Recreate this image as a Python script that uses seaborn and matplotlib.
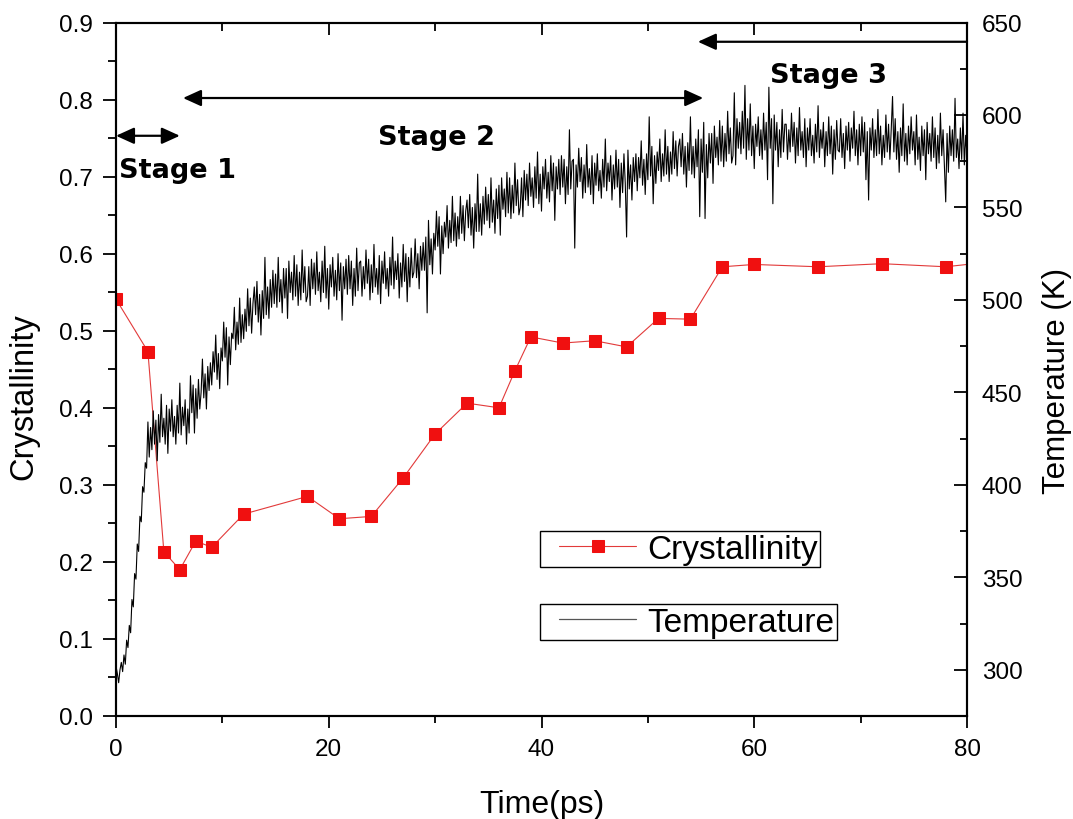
import numpy as np
import pandas as pd
import matplotlib
matplotlib.use("Agg")
import matplotlib.pyplot as plt
from matplotlib.patches import ArrowStyle
from matplotlib.legend_handler import HandlerLine2D
from matplotlib.ticker import MultipleLocator, FormatStrFormatter
import seaborn as sns

sns.set_theme(style="ticks")
plt.rcParams["font.family"] = ["Liberation Sans", "DejaVu Sans"]
for key in ("text.color", "axes.labelcolor", "xtick.color", "ytick.color", "axes.edgecolor"):
    plt.rcParams[key] = "black"

# Crystallinity sampled along the run (left axis)
cryst_time = [0, 3, 4.5, 6, 7.5, 9, 12, 18, 21, 24, 27, 30, 33, 36, 37.5, 39,
              42, 45, 48, 51, 54, 57, 60, 66, 72, 78, 84]
crystallinity = [0.541, 0.473, 0.213, 0.190, 0.227, 0.219, 0.262, 0.285, 0.256,
                 0.259, 0.309, 0.366, 0.406, 0.400, 0.448, 0.492, 0.484, 0.487,
                 0.479, 0.516, 0.515, 0.583, 0.586, 0.583, 0.587, 0.583, 0.592]

# Temperature trace (K), one sample every 0.125 ps (one row per ps), 0 to 80 ps
temperature = [
    302, 298, 293, 300, 304, 299, 308, 303,
    316, 312, 324, 320, 338, 334, 352, 349,
    368, 364, 383, 380, 399, 396, 412, 409,
    434, 415, 431, 419, 440, 422, 435, 413,
    438, 423, 449, 426, 436, 422, 443, 417,
    441, 429, 446, 426, 437, 422, 443, 428,
    455, 427, 442, 432, 446, 422, 441, 428,
    459, 439, 454, 428, 452, 436, 457, 441,
    450, 468, 447, 460, 441, 464, 451, 466,
    454, 472, 461, 481, 457, 471, 452, 474,
    467, 488, 469, 485, 454, 480, 465, 482,
    479, 496, 473, 488, 476, 501, 477, 492,
    479, 495, 483, 506, 486, 501, 482, 498,
    507, 492, 510, 488, 503, 481, 505, 490,
    523, 492, 507, 490, 511, 496, 516, 498,
    514, 496, 523, 499, 511, 493, 517, 501,
    517, 490, 521, 504, 515, 500, 524, 502,
    519, 497, 515, 500, 527, 504, 518, 499,
    502, 518, 497, 522, 506, 520, 503, 526,
    505, 515, 499, 521, 504, 529, 501, 517,
    495, 519, 507, 523, 502, 516, 500, 525,
    505, 520, 489, 518, 506, 522, 503, 524,
    506, 521, 497, 517, 502, 528, 505, 520,
    521, 502, 518, 506, 527, 509, 522, 500,
    519, 504, 530, 507, 517, 503, 524, 498,
    521, 509, 526, 506, 517, 502, 523, 508,
    534, 506, 521, 511, 525, 501, 520, 507,
    530, 510, 525, 499, 523, 507, 528, 512,
    515, 533, 512, 525, 506, 529, 516, 531,
    516, 534, 493, 543, 519, 533, 514, 536,
    527, 548, 529, 545, 514, 540, 525, 542,
    534, 551, 528, 543, 531, 556, 532, 547,
    529, 545, 533, 556, 536, 551, 532, 548,
    554, 539, 557, 535, 550, 528, 552, 537,
    568, 537, 552, 535, 556, 541, 561, 543,
    557, 539, 566, 542, 554, 536, 560, 544,
    562, 535, 566, 549, 560, 545, 569, 547,
    566, 544, 562, 547, 574, 551, 565, 546,
    550, 566, 545, 570, 554, 568, 551, 574,
    556, 566, 550, 572, 555, 580, 552, 568,
    548, 572, 560, 576, 555, 569, 553, 578,
    559, 574, 543, 572, 560, 576, 557, 578,
    561, 576, 552, 572, 557, 592, 560, 575,
    576, 528, 573, 561, 582, 564, 577, 555,
    573, 558, 584, 561, 571, 557, 578, 552,
    574, 562, 579, 559, 570, 555, 576, 561,
    587, 559, 574, 564, 578, 554, 573, 560,
    581, 561, 576, 550, 574, 558, 579, 563,
    534, 581, 560, 573, 554, 577, 564, 579,
    559, 577, 566, 586, 562, 576, 557, 579,
    565, 599, 567, 583, 552, 578, 563, 580,
    570, 587, 564, 579, 567, 592, 568, 583,
    564, 580, 568, 591, 571, 586, 567, 583,
    587, 572, 590, 568, 583, 561, 585, 570,
    599, 568, 583, 566, 587, 572, 592, 545,
    587, 569, 596, 544, 584, 566, 590, 574,
    590, 563, 594, 577, 588, 573, 597, 575,
    594, 572, 590, 575, 602, 579, 593, 574,
    578, 612, 573, 598, 582, 596, 579, 602,
    582, 616, 576, 598, 581, 606, 578, 594,
    571, 595, 583, 599, 578, 592, 576, 601,
    581, 596, 565, 615, 582, 598, 552, 600,
    581, 596, 572, 592, 577, 603, 580, 595,
    595, 576, 592, 580, 601, 583, 596, 574,
    593, 578, 604, 581, 591, 577, 598, 572,
    593, 581, 598, 578, 589, 574, 595, 580,
    605, 577, 592, 582, 596, 572, 591, 578,
    599, 579, 594, 568, 592, 576, 597, 581,
    580, 598, 577, 590, 571, 594, 581, 596,
    575, 593, 582, 602, 578, 592, 573, 595,
    578, 599, 580, 596, 565, 591, 554, 593,
    581, 598, 577, 592, 578, 603, 579, 594,
    573, 589, 577, 600, 580, 595, 576, 592,
    610, 580, 598, 576, 591, 569, 593, 578,
    606, 575, 590, 573, 594, 579, 599, 581,
    591, 573, 600, 576, 588, 570, 594, 578,
    592, 565, 596, 579, 590, 575, 599, 577,
    593, 571, 589, 574, 601, 578, 592, 573,
    553, 590, 569, 594, 578, 592, 575, 609,
    577, 587, 571, 593, 576, 601, 573, 589,
    578,
]
temp_time = np.linspace(0, 80, len(temperature))

# Stage annotations
stage_labels = ["Stage 1", "Stage 2", "Stage 3"]
stage_text_xy = [(0.3, 0.700), (24.6, 0.742), (61.5, 0.823)]
stage_arrows = [((0.0, 6.0), 0.753, "<|-|>"),
                ((6.3, 55.2), 0.802, "<|-|>"),
                ((80.0, 54.7), 0.875, "-|>")]

W, H = 1073, 820
fig = plt.figure(figsize=(W / 100, H / 100), dpi=100)
ax1 = fig.add_axes([116 / W, 1 - 717 / H, 851 / W, 693.5 / H])
ax2 = ax1.twinx()

sns.lineplot(x=temp_time, y=temperature, ax=ax2, color="black", linewidth=0.8,
             label="Temperature", legend=False, errorbar=None)
sns.lineplot(x=cryst_time, y=crystallinity, ax=ax1, color="#e23a3a", linewidth=0.8,
             marker="s", markersize=8.6, markerfacecolor="#f01010",
             markeredgecolor="#f01010", label="Crystallinity", legend=False,
             errorbar=None)

ax1.set_xlim(0, 80)
ax1.set_ylim(0, 0.9)
ax2.set_ylim(275, 650)
ax1.set_xlabel("")
ax1.set_ylabel("")
ax2.set_ylabel("")

ax1.xaxis.set_major_locator(MultipleLocator(20))
ax1.xaxis.set_minor_locator(MultipleLocator(10))
ax1.yaxis.set_major_locator(MultipleLocator(0.1))
ax1.yaxis.set_minor_locator(MultipleLocator(0.05))
ax1.yaxis.set_major_formatter(FormatStrFormatter("%.1f"))
ax2.set_yticks(np.arange(300, 651, 50))
ax2.yaxis.set_minor_locator(MultipleLocator(25))

tick_fs = 17.5
ax1.tick_params(axis="x", which="both", direction="out", bottom=True, top=False,
                labelsize=tick_fs, pad=7.5, width=1.3, colors="black")
ax1.tick_params(axis="x", which="major", length=8.6)
ax1.tick_params(axis="x", which="minor", length=5)
ax1.tick_params(axis="y", which="both", direction="out", left=True, right=False,
                labelsize=tick_fs, pad=7, width=1.3, colors="black")
ax1.tick_params(axis="y", which="major", length=9.4)
ax1.tick_params(axis="y", which="minor", length=5.8)

ax2.xaxis.set_visible(True)
ax2.tick_params(axis="x", which="both", direction="in", bottom=False, top=True,
                labelbottom=False, labeltop=False, width=1.3)
ax2.tick_params(axis="x", which="major", length=8.6)
ax2.tick_params(axis="x", which="minor", length=5.5)
ax2.tick_params(axis="y", which="both", direction="in", left=False, right=True,
                labelsize=tick_fs, pad=10.5, width=1.3, colors="black")
ax2.tick_params(axis="y", which="major", length=9.4)
ax2.tick_params(axis="y", which="minor", length=5)

for ax in (ax1, ax2):
    for sp in ax.spines.values():
        sp.set_visible(True)
        sp.set_linewidth(1.5)
        sp.set_color("black")

# Two separate legend boxes
leg_fs = 24
legends = []
for ax, loc_y in ((ax1, 0.2668), (ax2, 0.1615)):
    line = ax.get_lines()[0]
    leg = ax.legend(handles=[line], labels=[line.get_label()],
                    loc="upper left", bbox_to_anchor=(0.4982, loc_y),
                    borderaxespad=0, borderpad=0.08, fontsize=leg_fs,
                    handlelength=2.8, handletextpad=0.33, fancybox=False,
                    framealpha=1, edgecolor="black", frameon=True,
                    handler_map={line: HandlerLine2D(numpoints=1, xpad=0.5)})
    leg.get_frame().set_linewidth(1.0)
    for t in leg.get_texts():
        t.set_color("black")
    legends.append(leg)
temp_handle = legends[1].legend_handles[0]
temp_handle.set_color("#555555")
temp_handle.set_linewidth(0.9)

# Stage labels and arrows
for label, (tx, ty) in zip(stage_labels, stage_text_xy):
    ax1.text(tx, ty, label, ha="left", va="baseline", fontsize=19.5,
             fontweight="bold", family="DejaVu Sans", color="black")
for (x0, x1), ay, style in stage_arrows:
    ax1.annotate("", xy=(x1, ay), xytext=(x0, ay), xycoords="data",
                 annotation_clip=False,
                 arrowprops=dict(arrowstyle=ArrowStyle(style, head_length=1.1, head_width=0.5),
                                 color="black", lw=1.6, shrinkA=0, shrinkB=0,
                                 mutation_scale=10))

fig.text(24 / W, 1 - 397 / H, "Crystallinity", rotation=90, ha="center",
         va="center", fontsize=23.5, color="black")
fig.text(1057.5 / W, 1 - 381 / H, "Temperature (K)", rotation=90, ha="center",
         va="center", fontsize=22.5, color="black")
fig.text(541.5 / W, 1 - 813 / H, "Time(ps)", ha="center", va="baseline",
         fontsize=23, color="black")

fig.savefig("out.png", dpi=100)
